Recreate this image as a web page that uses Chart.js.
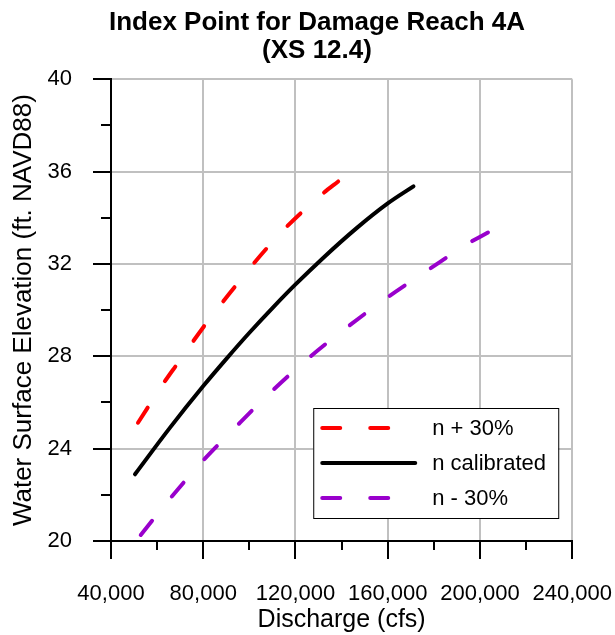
<!DOCTYPE html>
<html>
<head>
<meta charset="utf-8">
<script src="https://cdn.jsdelivr.net/npm/chart.js@4.4.1/dist/chart.umd.min.js"></script>
<style>
  html, body { margin: 0; padding: 0; background: #fff; }
  #wrap { width: 615px; height: 635px; }
</style>
</head>
<body>
<div id="wrap"><canvas id="rating" width="615" height="635"></canvas></div>
<script>
// Rating curves at the index point (discharge in cfs, elevation in ft NAVD88)
const plusQ = [51700, 62900, 68500, 80800, 93800, 101300, 115500, 131100, 138900]
const plusWse = [25.12, 26.85, 27.64, 29.36, 31.02, 31.95, 33.54, 34.98, 35.6]

const calQ = [50400, 65600, 80000, 90200, 100300, 110400, 120000, 132100, 146500, 160000, 171150]
const calWse = [22.89, 24.91, 26.71, 27.91, 29.05, 30.13, 31.11, 32.27, 33.55, 34.62, 35.36]

const minusQ = [52900, 66300, 80200, 95200, 110300, 125900, 142700, 159600, 177400, 195300, 204000]
const minusWse = [20.26, 21.92, 23.51, 25.05, 26.54, 27.94, 29.28, 30.53, 31.73, 32.91, 33.39]

const seriesLabels = ['n + 30%', 'n calibrated', 'n - 30%']
const chartTitle = ['Index Point for Damage Reach 4A', '(XS 12.4)']
const xTitle = 'Discharge (cfs)'
const yTitle = 'Water Surface Elevation (ft. NAVD88)'

const FONT = "'Liberation Sans', Arial, Helvetica, sans-serif"
const toPts = (xs, ys) => xs.map((x, i) => ({ x, y: ys[i] }))

// outward major / minor tick marks
const tickMarks = {
  id: 'tickMarks',
  afterDraw(chart) {
    const { ctx, chartArea } = chart
    const xs = chart.scales.x, ys = chart.scales.y
    ctx.save()
    ctx.strokeStyle = '#000'
    ctx.lineWidth = 2
    ctx.beginPath()
    xs.ticks.forEach(t => {
      const px = Math.round(xs.getPixelForValue(t.value))
      const len = t.value % 40000 === 0 ? 18 : 9
      ctx.moveTo(px, chartArea.bottom)
      ctx.lineTo(px, chartArea.bottom + len)
    })
    ys.ticks.forEach(t => {
      const py = Math.round(ys.getPixelForValue(t.value))
      const len = t.value % 4 === 0 ? 18 : 10
      ctx.moveTo(chartArea.left, py)
      ctx.lineTo(chartArea.left - len, py)
    })
    ctx.stroke()
    ctx.restore()
  }
}

// boxed legend in the lower right of the plot
const boxLegend = {
  id: 'boxLegend',
  afterDatasetsDraw(chart) {
    const { ctx, chartArea } = chart
    const w = 245, h = 110
    const left = chartArea.right - 14 - w
    const top = chartArea.bottom - 23 - h
    ctx.save()
    ctx.fillStyle = '#fff'
    ctx.fillRect(left, top, w, h)
    ctx.strokeStyle = '#000'
    ctx.lineWidth = 1
    ctx.strokeRect(left + 0.5, top + 0.5, w, h)
    ctx.font = '22px ' + FONT
    ctx.textBaseline = 'middle'
    ctx.fillStyle = '#000'
    chart.data.datasets.forEach((ds, i) => {
      const y = top + 20 + i * 35
      ctx.beginPath()
      ctx.strokeStyle = ds.borderColor
      ctx.lineWidth = ds.borderWidth
      ctx.lineCap = 'round'
      ctx.setLineDash(ds.borderDash ? [18, 30] : [])
      ctx.moveTo(left + 9, y)
      ctx.lineTo(left + 102, y)
      ctx.stroke()
      ctx.setLineDash([])
      ctx.fillText(ds.label, left + 119, y + 1)
    })
    ctx.restore()
  }
}

const lineStyle = {
  showLine: true,
  borderWidth: 4,
  borderCapStyle: 'round',
  pointRadius: 0,
  cubicInterpolationMode: 'monotone'
}

// eslint-disable-next-line no-undef
new Chart(document.getElementById('rating').getContext('2d'), {
  type: 'scatter',
  data: {
    datasets: [
      Object.assign({}, lineStyle, {
        label: seriesLabels[0],
        data: toPts(plusQ, plusWse),
        borderColor: '#ff0000',
        borderDash: [18, 31.5]
      }),
      Object.assign({}, lineStyle, {
        label: seriesLabels[1],
        data: toPts(calQ, calWse),
        borderColor: '#000000'
      }),
      Object.assign({}, lineStyle, {
        label: seriesLabels[2],
        data: toPts(minusQ, minusWse),
        borderColor: '#9900cc',
        borderDash: [18, 31.5]
      })
    ]
  },
  options: {
    responsive: false,
    animation: false,
    layout: { padding: { left: 31, right: 12, top: 0, bottom: 0 } },
    plugins: {
      legend: { display: false },
      tooltip: { enabled: false },
      title: {
        display: true,
        text: chartTitle,
        color: '#000',
        font: { family: FONT, size: 26, weight: 'bold', lineHeight: 1.08 },
        padding: { top: 9, bottom: 14 }
      }
    },
    scales: {
      x: {
        type: 'linear',
        min: 40000,
        max: 240000,
        afterFit: s => { s.height = 94 },
        border: { color: '#000', width: 2 },
        grid: {
          drawTicks: true,
          tickLength: 37,
          tickColor: 'rgba(0,0,0,0)',
          lineWidth: 2,
          color: c => (c.tick && c.tick.value % 40000 === 0) ? '#c0c0c0' : 'rgba(0,0,0,0)'
        },
        ticks: {
          stepSize: 20000,
          autoSkip: false,
          maxRotation: 0,
          padding: 3,
          color: '#000',
          font: { family: FONT, size: 22 },
          callback: v => v % 40000 === 0 ? v.toLocaleString('en-US') : ''
        },
        title: {
          display: true,
          text: xTitle,
          color: '#000',
          font: { family: FONT, size: 25 },
          padding: { top: 2, bottom: 0 }
        }
      },
      y: {
        min: 20,
        max: 40,
        afterFit: s => { s.width = 80 },
        border: { color: '#000', width: 2 },
        grid: {
          drawTicks: true,
          tickLength: 36,
          tickColor: 'rgba(0,0,0,0)',
          lineWidth: 2,
          color: c => (c.tick && c.tick.value % 4 === 0) ? '#c0c0c0' : 'rgba(0,0,0,0)'
        },
        ticks: {
          stepSize: 2,
          autoSkip: false,
          padding: 3,
          color: '#000',
          font: { family: FONT, size: 22 },
          callback: v => v % 4 === 0 ? String(v) : ''
        },
        title: {
          display: true,
          text: yTitle,
          color: '#000',
          font: { family: FONT, size: 26 },
          padding: { top: -23, bottom: 0 }
        }
      }
    }
  },
  plugins: [tickMarks, boxLegend]
})
</script>
</body>
</html>
